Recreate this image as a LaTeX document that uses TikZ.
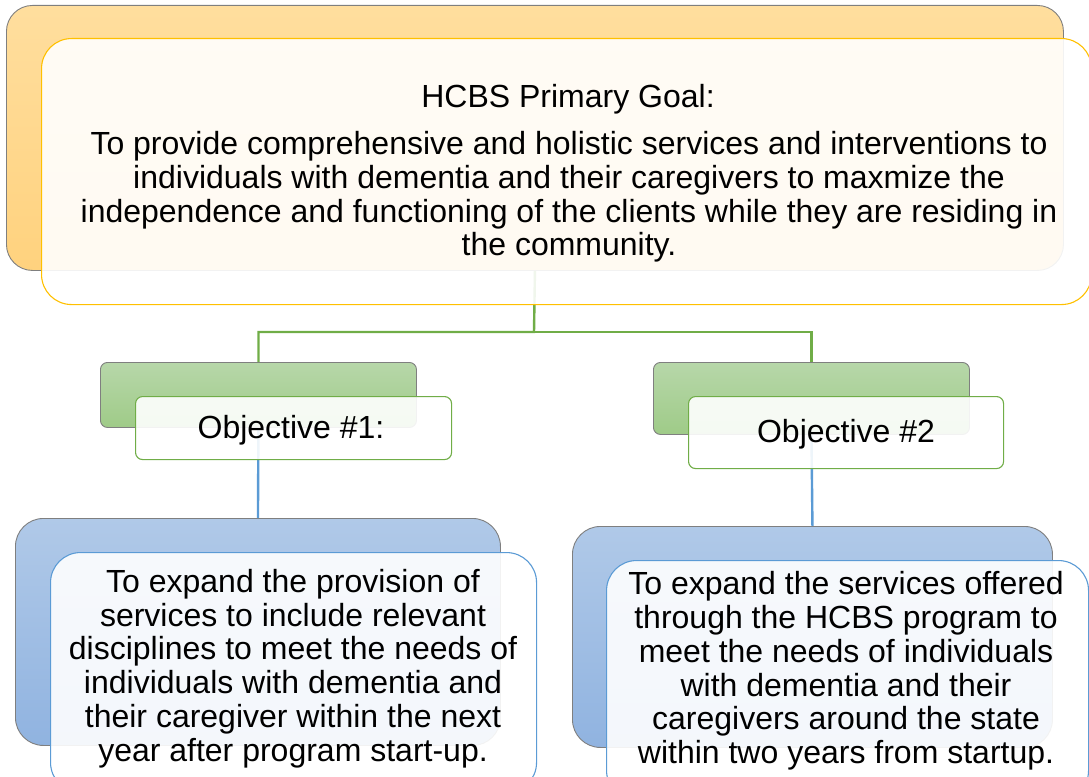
\documentclass[tikz,border=0pt]{standalone}
\usepackage{fontspec}
\setmainfont{Liberation Sans}
\definecolor{goaltop}{HTML}{FFDE9E}
\definecolor{goalbot}{HTML}{FFD27E}
\definecolor{goalline}{HTML}{FFC000}
\definecolor{objtop}{HTML}{B7D7A9}
\definecolor{objbot}{HTML}{9FCB88}
\definecolor{objline}{HTML}{70AD47}
\definecolor{dettop}{HTML}{B0C9E8}
\definecolor{detbot}{HTML}{90B3E0}
\definecolor{detline}{HTML}{5B9BD5}
\definecolor{backline}{HTML}{7F7F7F}
\begin{document}
\begin{tikzpicture}[x=1pt,y=-1pt,
  box/.style={anchor=north west, inner sep=0pt, minimum width=#1},
  backbox/.style={draw=backline, line width=0.9pt},
  frontbox/.style={fill=white, fill opacity=0.9, line width=1.1pt},
  txt/.style={align=center, font=\fontsize{32}{33.8}\selectfont},
  link/.style={line width=2.4pt}]
\useasboundingbox (0,0) rectangle (1089,776);

% back panels
\node[box=1057, minimum height=265, backbox, rounded corners=26,
      top color=goaltop, bottom color=goalbot] (goalb) at (6,5) {};
\node[box=316, minimum height=65, backbox, rounded corners=7,
      top color=objtop, bottom color=objbot] (obj1b) at (100,362) {};
\node[box=316, minimum height=72, backbox, rounded corners=7,
      top color=objtop, bottom color=objbot] (obj2b) at (653,362) {};
\node[box=485, minimum height=227, backbox, rounded corners=28,
      top color=dettop, bottom color=detbot] (det1b) at (15,518) {};
\node[box=480, minimum height=221, backbox, rounded corners=28,
      top color=dettop, bottom color=detbot] (det2b) at (572,526) {};

% connectors
\coordinate (split) at (534,332);
\draw[link, objline] (goalb.south) -- (split) -| (obj1b.north);
\draw[link, objline] (split) -| (obj2b.north);
\draw[link, detline] (obj1b.south) -- (det1b.north);
\draw[link, detline] (obj2b.south) -- (det2b.north);

% front panels
\node[box=1050, minimum height=266, frontbox, draw=goalline, rounded corners=30] (goalf) at (41,38) {};
\node[box=316, minimum height=63, frontbox, draw=objline, rounded corners=7] (obj1f) at (135,396) {};
\node[box=315, minimum height=72, frontbox, draw=objline, rounded corners=7] (obj2f) at (688,396) {};
\node[box=486, minimum height=240, frontbox, draw=detline, rounded corners=30] (det1f) at (50,552) {};
\node[box=482, minimum height=240, frontbox, draw=detline, rounded corners=30] (det2f) at (606,560) {};

% texts
\node[txt] (goalhead) at (568,99.5) {HCBS Primary Goal:};
\node[txt] (goaltext) at (569,197) {To provide comprehensive and holistic services and interventions to\\
individuals with dementia and their caregivers to maxmize the\\
independence and functioning of the clients while they are residing in\\
the community.};
\node[txt] (obj1t) at (291,430.5) {Objective \#1:};
\node[txt] (obj2t) at (846,434.5) {Objective \#2};
\node[txt] (det1t) at (293,668.5) {To expand the provision of\\
services to include relevant\\
disciplines to meet the needs of\\
individuals with dementia and\\
their caregiver within the next\\
year after program start-up.};
\node[txt] (det2t) at (846,671) {To expand the services offered\\
through the HCBS program to\\
meet the needs of individuals\\
with dementia and their\\
caregivers around the state\\
within two years from startup.};
\end{tikzpicture}
\end{document}
